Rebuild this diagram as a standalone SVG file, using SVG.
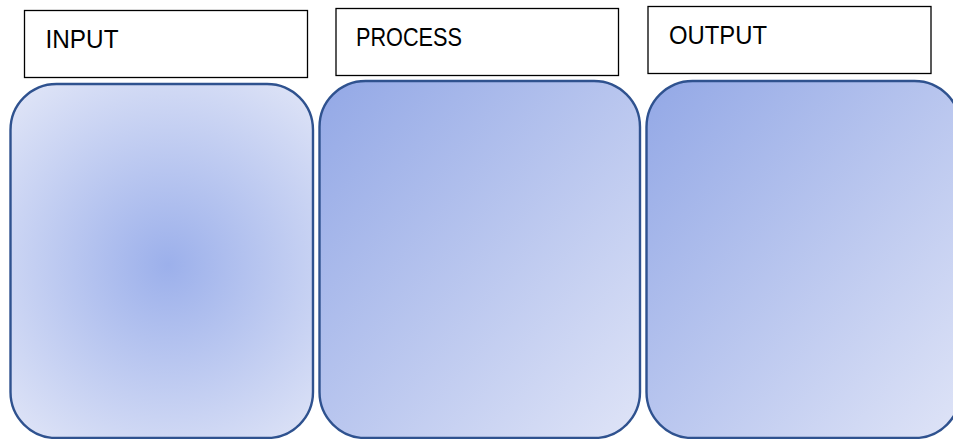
<svg xmlns="http://www.w3.org/2000/svg" width="953" height="439" viewBox="0 0 953 439">
<defs>
<radialGradient id="gRad" gradientUnits="userSpaceOnUse" cx="168" cy="265" r="230">
<stop offset="0" stop-color="#9CB0EB"/>
<stop offset="1" stop-color="#E0E5F7"/>
</radialGradient>
<linearGradient id="gLin" x1="0" y1="0" x2="1" y2="1">
<stop offset="0" stop-color="#93A8E6"/>
<stop offset="1" stop-color="#DFE4F7"/>
</linearGradient>
<style>
.lbl{fill:#fff;stroke:#000;stroke-width:1.3}
.txt{font-family:"Liberation Sans",Arial,sans-serif;font-size:26px;fill:#000}
.card{stroke:#2F528F;stroke-width:2.4}
</style>
</defs>
<rect width="953" height="439" fill="#fff"/>
<g id="input">
<rect class="lbl" x="24.5" y="10.5" width="283" height="67"/>
<text class="txt" x="45.5" y="48" textLength="73" lengthAdjust="spacingAndGlyphs">INPUT</text>
<rect class="card" x="10.5" y="84" width="302.5" height="354" rx="46" ry="46" fill="url(#gRad)"/>
</g>
<g id="process">
<rect class="lbl" x="336" y="8.5" width="282.5" height="67"/>
<text class="txt" x="356" y="45.5" textLength="106" lengthAdjust="spacingAndGlyphs">PROCESS</text>
<rect class="card" x="319.5" y="81" width="320.5" height="357" rx="46" ry="46" fill="url(#gLin)"/>
</g>
<g id="output">
<rect class="lbl" x="648" y="6.5" width="283" height="67"/>
<text class="txt" x="669" y="44" textLength="98" lengthAdjust="spacingAndGlyphs">OUTPUT</text>
<rect class="card" x="646.5" y="81" width="314" height="357" rx="46" ry="46" fill="url(#gLin)"/>
</g>
<g id="connectors"/>
</svg>
